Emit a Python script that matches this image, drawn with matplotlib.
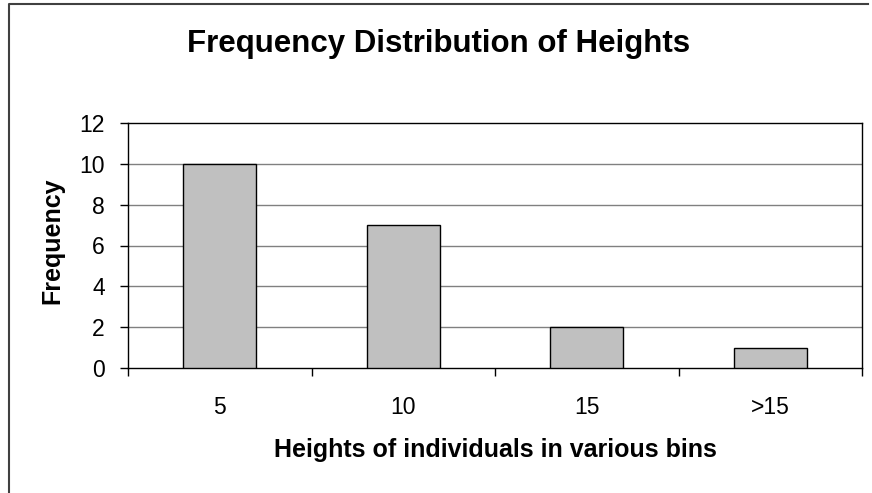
import matplotlib
matplotlib.use('Agg')
import numpy as np
from matplotlib import pyplot as plt
from matplotlib.lines import Line2D

bins = ['5', '10', '15', '>15']
freq = [10, 7, 2, 1]
yticks = [0, 2, 4, 6, 8, 10, 12]

plt.rcParams['font.family'] = ['Liberation Sans', 'DejaVu Sans']

W, H = 872, 493
fig = plt.figure(figsize=(W/100, H/100), dpi=100)
ax = fig.add_axes([128/W, 1-368/H, (862-128)/W, (368-123)/H])

x = np.arange(len(bins))
ax.bar(x, freq, width=0.4, color='#c0c0c0', edgecolor='black', linewidth=1, zorder=3)

ax.set_xlim(-0.5, len(bins)-0.5)
ax.set_ylim(0, 12)
ax.set_yticks(yticks)
ax.set_yticklabels([str(v) for v in yticks], fontsize=16.5)
ax.set_xticks(x)
ax.set_xticklabels(bins, fontsize=16.5)
ax.tick_params(axis='x', length=0, pad=20)
ax.tick_params(axis='y', direction='out', length=6, width=1, pad=10.8)
# category boundary ticks
ax.set_xticks(np.arange(len(bins)+1)-0.5, minor=True)
ax.tick_params(axis='x', which='minor', direction='out', length=6, width=1)

for v in yticks[1:-1]:
    ax.axhline(v, color='#808080', lw=1, zorder=1)

for s in ax.spines.values():
    s.set_color('black')
    s.set_linewidth(1)

fig.text(0.5 * (128 + 862) / W, 1-457/H, 'Heights of individuals in various bins',
         ha='center', va='baseline', fontsize=18, fontweight='bold')
fig.text(52/W, 1-241/H, 'Frequency', ha='center', va='center', rotation=90,
         fontsize=18, fontweight='bold')
fig.text(0.5 * (9 + 868) / W, 1-52/H, 'Frequency Distribution of Heights', ha='center',
         va='baseline', fontsize=22.5, fontweight='bold')

# outer chart border (left and top only visible)
fig.add_artist(Line2D([9/W, 9/W, 868/W], [0, 1-4/H, 1-4/H],
                      transform=fig.transFigure, color='#404040', lw=1.5))

fig.savefig('out.png', dpi=100)
